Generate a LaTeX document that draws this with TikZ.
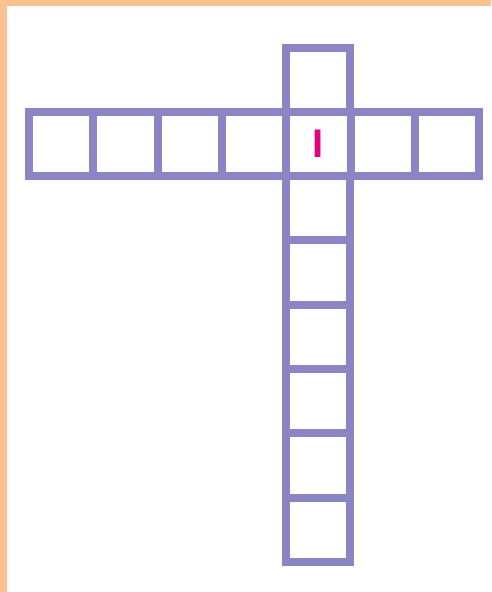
\documentclass[tikz,border=0pt]{standalone}
\usepackage{fontspec}
\setmainfont{Liberation Sans}
\definecolor{gridpurple}{HTML}{8A85C3}
\definecolor{frameorange}{HTML}{FBC290}
\definecolor{lettermag}{HTML}{E5007F}
\tikzset{
  cell/.style={draw=gridpurple, line width=8pt, minimum size=64.3pt, inner sep=0pt, outer sep=0pt, fill=none},
  letter/.style={text=lettermag, font=\fontsize{40}{40}\selectfont\bfseries, inner sep=0pt}
}
\begin{document}
\begin{tikzpicture}[x=1pt,y=-1pt]
\useasboundingbox (0,0) rectangle (491,592);
\fill[white] (0,0) rectangle (491,592);
\fill[frameorange] (0,0) rectangle (7,592);
\fill[frameorange] (0,0) rectangle (491,6);
% horizontal row
\foreach \i in {1,...,7} {
  \node[cell] (r\i) at ({29+64.3*(\i-0.5)},144) {};
}
% vertical column: top cell
\node[cell] (c0) at (318.3,79.85) {};
% vertical column below row
\foreach \k in {1,...,6} {
  \node[cell] (c\k) at (318.3,{176+64.3*(\k-0.5)}) {};
}
\node[letter] (L) at (r5.center) {I};
\end{tikzpicture}
\end{document}
